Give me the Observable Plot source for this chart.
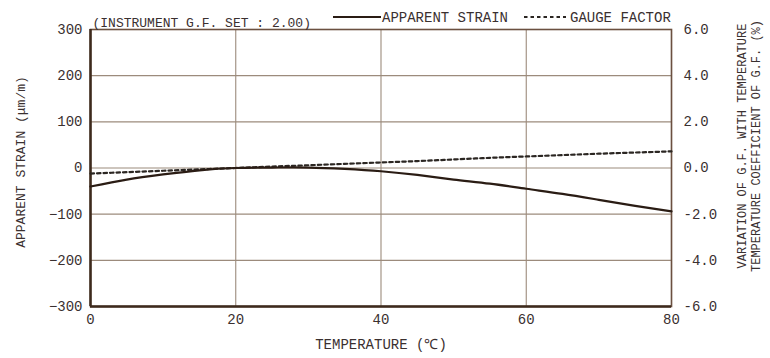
<!DOCTYPE html>
<html>
<head>
<meta charset="utf-8">
<script src="https://cdn.jsdelivr.net/npm/d3@7"></script>
<script src="https://cdn.jsdelivr.net/npm/@observablehq/plot@0.6"></script>
<style>
  body { margin: 0; background: #fff; }
  #chart svg { font-family: "Liberation Mono", "DejaVu Sans Mono", monospace; }
</style>
</head>
<body>
<div id="chart"></div>
<script>
// Temperature (°C) sample points
const temperature = [0, 5, 10, 15, 20, 25, 30, 35, 40, 45, 50, 55, 60, 65, 70, 75, 80];
// Apparent strain (µm/m)
const apparentStrain = [-40, -25, -14, -5, 0, 1, 1, -2, -7, -15, -25, -34, -45, -56, -69, -82, -94];
// Variation of gauge factor with temperature (%)
const gaugeFactor = [-0.24, -0.18, -0.12, -0.06, 0, 0.06, 0.12, 0.18, 0.24, 0.3, 0.37, 0.44, 0.5, 0.56, 0.62, 0.67, 0.72];

const strainTicks = [-300, -200, -100, 0, 100, 200, 300];
const coefTickLabels = ["-6.0", "-4.0", "-2.0", "0.0", "2.0", "4.0", "6.0"];
const tempTicks = [0, 20, 40, 60, 80];

// One percent of gauge-factor variation shares the axis with 50 µm/m
const pctToStrain = 50;

const rows = temperature.map((t, i) => ({t, strain: apparentStrain[i], gf: gaugeFactor[i]}));

const ink = "#3a3030";
const gridColor = "#9c8b7c";

const chart = Plot.plot({
  width: 770,
  height: 358,
  marginLeft: 90,
  marginRight: 99,
  marginTop: 29,
  marginBottom: 52,
  style: {fontFamily: "Liberation Mono, DejaVu Sans Mono, monospace", fontSize: "14px", color: ink, background: "#fff"},
  x: {domain: [0, 80]},
  y: {domain: [-300, 300]},
  marks: [
    Plot.gridY(strainTicks, {stroke: gridColor, strokeOpacity: 1, strokeWidth: 1.1}),
    Plot.gridX(tempTicks, {stroke: gridColor, strokeOpacity: 1, strokeWidth: 1.1}),
    Plot.frame({stroke: "#6b5040", strokeWidth: 1.6}),
    Plot.ruleX([0], {stroke: "#3d2a1c", strokeWidth: 2.5}),
    Plot.ruleY([-300], {stroke: "#3d2a1c", strokeWidth: 2.5}),
    Plot.axisY(strainTicks, {anchor: "left", tickSize: 0, tickPadding: 8, label: null, fill: ink, fontSize: 14}),
    Plot.axisY(strainTicks, {anchor: "right", tickSize: 0, tickPadding: 12, label: null, fill: ink, fontSize: 14,
      tickFormat: (d, i) => coefTickLabels[i]}),
    Plot.axisX(tempTicks, {anchor: "bottom", tickSize: 0, tickPadding: 8, label: null, fill: ink, fontSize: 14}),
    Plot.line(rows, {x: "t", y: d => d.gf * pctToStrain, stroke: "#2b2622", strokeWidth: 2.2, strokeDasharray: "3.5,3", curve: "natural"}),
    Plot.line(rows, {x: "t", y: "strain", stroke: "#2a1c14", strokeWidth: 2.2, curve: "natural"}),
    Plot.text(["APPARENT STRAIN (\u03bcm/m)"], {frameAnchor: "left", textAnchor: "middle", rotate: -90, dx: -70, dy: -6, fontSize: 13, fill: ink, letterSpacing: "1.5px"}),
    Plot.text(["TEMPERATURE (\u2103)"], {frameAnchor: "bottom", textAnchor: "middle", dy: 42, fontSize: 14, fill: ink}),
    Plot.text(["VARIATION OF G.F. WITH TEMPERATURE"], {frameAnchor: "right", textAnchor: "middle", rotate: -90, dx: 71, dy: -22, fontSize: 12, fill: ink}),
    Plot.text(["TEMPERATURE COEFFICIENT OF G.F. (%)"], {frameAnchor: "right", textAnchor: "middle", rotate: -90, dx: 85, dy: -22, fontSize: 12, fill: ink}),
    Plot.text(["(INSTRUMENT G.F. SET : 2.00)"], {frameAnchor: "top-left", textAnchor: "start", dx: 2, dy: -12, fontSize: 13, fill: ink})
  ]
});

// Legend entries along the top edge
const svg = d3.select(chart);
const legend = svg.append("g").attr("font-size", 14).attr("fill", ink).attr("text-anchor", "start");
legend.append("line").attr("x1", 333).attr("x2", 381).attr("y1", 17).attr("y2", 17)
  .attr("stroke", "#2a1c14").attr("stroke-width", 2.2);
legend.append("text").attr("x", 382).attr("y", 17).attr("dy", "0.35em").text("APPARENT STRAIN");
legend.append("line").attr("x1", 524).attr("x2", 566).attr("y1", 17).attr("y2", 17)
  .attr("stroke", "#2b2622").attr("stroke-width", 2.2).attr("stroke-dasharray", "3.5,3");
legend.append("text").attr("x", 570).attr("y", 17).attr("dy", "0.35em").text("GAUGE FACTOR");

document.getElementById("chart").append(chart);
</script>
</body>
</html>
